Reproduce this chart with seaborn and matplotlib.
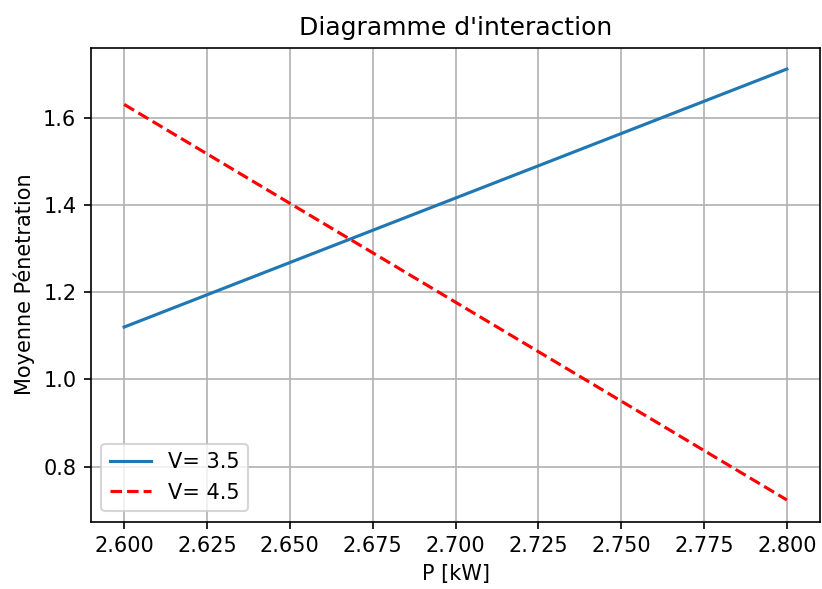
import pandas as pd
import seaborn as sns
import matplotlib
matplotlib.use("Agg")
import matplotlib.pyplot as plt

# Data
p_kw = [2.6, 2.8]
pen_v35 = [1.120, 1.711]
pen_v45 = [1.630, 0.724]

df35 = pd.DataFrame({"P": p_kw, "pen": pen_v35})
df45 = pd.DataFrame({"P": p_kw, "pen": pen_v45})

plt.rcParams['font.family'] = ['DejaVu Sans']

fig = plt.figure(figsize=(822 / 150, 589 / 150), dpi=150)
ax = fig.add_axes([91 / 822, 1 - 521.5 / 589, 729 / 822, 474 / 589])

sns.lineplot(data=df35, x="P", y="pen", ax=ax, color="#1f77b4", label="V= 3.5")
sns.lineplot(data=df45, x="P", y="pen", ax=ax, color="red", linestyle="--", label="V= 4.5")

ax.grid(True, color="#b0b0b0", linewidth=0.8)
ax.set_axisbelow(True)
ax.set_title("Diagramme d'interaction")
ax.set_xlabel("P [kW]")
ax.set_ylabel("Moyenne Pénetration")
ax.set_xticks([2.6, 2.625, 2.65, 2.675, 2.7, 2.725, 2.75, 2.775, 2.8])
ax.set_xticklabels(["%.3f" % t for t in ax.get_xticks()])
ax.legend(loc="lower left")

fig.savefig("out.png", dpi=150)
